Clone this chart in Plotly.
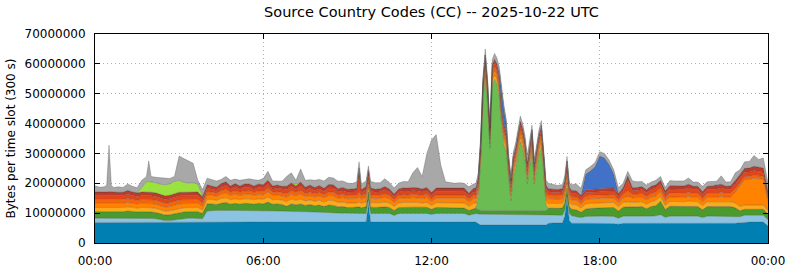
import plotly.graph_objects as go

# time slots (minutes after 00:00 UTC)
minutes = ([0, 10, 20, 25, 30, 35, 40, 50, 60, 70, 80, 90, 100, 110, 115, 120, 130, 140, 150, 160, 170,
            180, 190, 200, 210, 220, 230]
           + [240, 250, 260, 270, 280, 290, 300, 310, 320, 330, 340, 350, 360, 370, 380, 390, 400, 410,
              420, 430, 440, 450, 460, 470, 480, 490, 500, 510, 520, 530, 540, 550]
           + [560, 565, 570, 580, 585, 590]
           + [600, 610, 620, 630, 640, 650, 660, 670, 680, 690, 700, 710, 720, 730, 740, 750, 760, 770,
              780, 790, 800, 810]
           + [815, 820, 825, 830, 835, 840, 845, 850, 855, 860, 865, 870, 875, 880, 885, 890, 895, 900,
              905, 910, 915, 920, 925, 930, 935, 940, 945, 950, 955, 960, 965, 970, 975, 980]
           + [990, 1000, 1005, 1010, 1015, 1020]
           + [1030, 1040, 1050, 1060, 1070, 1080, 1090, 1100, 1110, 1120, 1130, 1140, 1150, 1160, 1170,
              1180, 1190, 1200, 1210, 1220, 1230, 1240, 1250, 1260, 1270, 1280, 1290, 1300, 1310, 1320,
              1330, 1340, 1350, 1360, 1370, 1380, 1390, 1400, 1410, 1420, 1430, 1440])

# values in millions of bytes per slot, bottom layer first
cc_teal = ([6.9, 6.9, 6.9, 6.9, 6.9, 6.9, 6.9, 6.9, 6.9, 6.9, 6.9, 6.9, 6.9, 6.9, 6.9, 6.9, 6.9, 6.9, 6.9, 6.9, 6.9, 6.9, 6.9, 6.9, 6.9, 6.9, 6.9]
           + [7.1, 7.1, 7.1, 7.1, 7.1, 7.1, 7.1, 7.1, 7.1, 7.1, 7.1, 7.1, 7.1, 7.1, 7.1, 7.1, 7.1, 7.1, 7.1, 7.1, 7.1, 7.1, 7.1, 7.1, 7.1, 7.1, 7.1, 7.1, 7.1, 7.1, 7.1, 7.1]
           + [7.1, 7.1, 7.1, 7.1, 13.0, 7.1]
           + [7.1, 7.1, 7.1, 7.1, 6.9, 7.1, 7.1, 7.1, 7.1, 7.1, 7.1, 7.1, 7.0, 7.1, 7.1, 7.1, 7.1, 7.1, 7.1, 7.1, 6.9, 7.0]
           + [7.0, 6.5, 6.0, 6.0, 6.0, 6.0, 6.0, 6.0, 6.0, 6.0, 6.0, 6.0, 6.0, 6.0, 6.0, 6.0, 6.0, 6.0, 6.0, 6.0, 6.0, 6.0, 6.0, 6.0, 6.0, 6.0, 6.0, 6.0, 6.0, 6.0, 6.0, 6.6, 6.7, 6.7]
           + [6.7, 6.7, 9.0, 14.8, 7.5, 6.6]
           + [6.6, 6.5, 6.6, 6.6, 6.6, 6.6, 6.6, 6.5, 6.5, 6.3, 6.6, 6.6, 6.6, 6.6, 6.6, 6.6, 6.6, 6.6, 6.6, 6.5, 6.6, 6.6, 6.6, 6.6, 6.6, 6.6, 6.6, 6.5, 6.6, 6.6, 6.6, 6.6, 6.6, 6.6, 6.6, 6.8, 7.0, 7.0, 7.0, 7.0, 7.0, 5.8])

cc_lightblue = ([1.4, 1.4, 1.4, 1.4, 1.4, 1.4, 1.4, 1.4, 1.4, 1.5, 1.4, 1.4, 1.4, 1.4, 1.4, 1.3, 1.2, 0.8, 0.6, 0.6, 0.8, 1.1, 1.3, 1.4, 1.4, 1.4, 1.2]
                + [3.6, 3.8, 3.8, 3.8, 3.9, 3.8, 3.8, 3.8, 3.8, 3.8, 3.8, 3.8, 3.7, 3.8, 3.8, 3.7, 3.6, 3.5, 3.5, 3.5, 3.5, 3.4, 3.4, 3.3, 3.2, 3.1, 3.1, 3.0, 3.0, 2.9, 2.9, 2.8]
                + [2.8, 2.8, 2.8, 2.8, 1.6, 2.8]
                + [2.8, 2.8, 2.8, 2.8, 2.3, 2.8, 2.8, 2.8, 2.8, 2.8, 2.8, 2.8, 2.6, 2.8, 2.8, 2.8, 2.8, 2.8, 2.8, 2.8, 2.4, 2.8]
                + [2.9, 3.2, 3.6, 3.6, 3.6, 3.6, 3.6, 3.6, 3.6, 3.6, 3.6, 3.6, 3.6, 3.6, 3.6, 3.6, 3.6, 3.6, 3.6, 3.6, 3.6, 3.6, 3.6, 3.6, 3.6, 3.6, 3.6, 3.6, 3.6, 3.6, 3.6, 3.0, 2.8, 2.7]
                + [2.6, 2.6, 2.0, 1.0, 2.4, 2.5]
                + [2.2, 2.0, 2.3, 2.4, 2.4, 2.4, 2.4, 2.4, 2.4, 2.0, 2.4, 2.4, 2.4, 2.4, 2.4, 2.2, 2.4, 2.5, 2.9, 2.1, 2.4, 2.4, 2.4, 2.4, 2.4, 2.4, 2.4, 2.0, 2.4, 2.4, 2.4, 2.4, 2.4, 2.4, 2.3, 2.0, 2.3, 2.3, 2.3, 2.3, 2.3, 2.0])

cc_green = ([2.2, 2.2, 2.2, 2.2, 2.2, 2.2, 2.1, 2.2, 2.2, 2.3, 2.2, 2.1, 2.2, 2.2, 2.2, 2.2, 2.1, 2.0, 1.9, 2.0, 2.1, 2.2, 2.2, 2.2, 2.2, 2.2, 1.8]
            + [2.4, 2.2, 2.0, 2.4, 2.6, 2.1, 2.4, 2.1, 2.4, 2.3, 2.1, 2.4, 2.3, 2.8, 2.1, 2.3, 2.2, 1.7, 2.5, 2.2, 2.5, 2.1, 2.4, 2.1, 2.4, 2.0, 2.5, 2.5, 2.0, 2.2, 1.9, 2.0]
            + [2.0, 2.2, 1.9, 2.2, 2.5, 2.1]
            + [2.0, 2.1, 2.2, 2.0, 1.7, 2.0, 2.1, 2.0, 2.1, 2.1, 2.0, 2.1, 1.7, 2.0, 2.0, 2.0, 1.9, 1.8, 1.8, 1.8, 1.6, 1.8]
            + [1.8, 1.5, 1.3, 1.3, 1.3, 1.3, 1.3, 1.3, 1.3, 1.3, 1.3, 1.3, 1.3, 1.3, 1.3, 1.3, 1.3, 1.3, 1.3, 1.3, 1.3, 1.3, 1.3, 1.3, 1.3, 1.3, 1.3, 1.3, 1.3, 1.3, 1.3, 2.0, 2.2, 2.2]
            + [2.3, 2.4, 2.5, 2.6, 2.3, 2.2]
            + [2.3, 1.8, 2.5, 2.6, 2.7, 2.8, 2.9, 3.0, 3.0, 2.4, 3.0, 3.1, 3.0, 3.1, 3.2, 2.7, 3.2, 3.4, 4.5, 2.6, 3.3, 3.3, 3.2, 3.2, 3.3, 3.2, 3.2, 2.6, 3.2, 3.2, 3.2, 3.3, 3.2, 3.2, 2.9, 2.0, 2.0, 2.0, 2.0, 2.0, 2.0, 1.8])

cc_brightgreen = ([0, 0, 0, 0, 0, 0, 0, 0, 0, 0, 0, 0, 0, 0, 0, 0, 0, 0, 0, 0, 0, 0, 0, 0, 0, 0, 0]
                  + [0, 0, 0, 0, 0, 0, 0, 0, 0, 0, 0, 0, 0, 0, 0, 0, 0, 0, 0, 0, 0, 0, 0, 0, 0, 0, 0, 0, 0, 0, 0, 0]
                  + [0, 0, 0, 0, 0, 0]
                  + [0, 0, 0, 0, 0, 0, 0, 0, 0, 0, 0, 0, 0, 0, 0, 0, 0, 0, 0, 0, 0, 0]
                  + [0, 4.0, 15.8, 36.3, 45.4, 35.8, 20.8, 42.1, 43.9, 42.4, 38.1, 28.4, 22.0, 19.9, 10.8, 3.3, 11.3, 14.3, 18.8, 23.1, 20.8, 16.8, 9.0, 14.8, 20.3, 8.9, 13.8, 18.8, 21.0, 12.8, 1.8, 0, 0, 0]
                  + [0, 0, 0, 0, 0, 0]
                  + [0, 0, 0, 0, 0, 0, 0, 0, 0, 0, 0, 0, 0, 0, 0, 0, 0, 0, 0, 0, 0, 0, 0, 0, 0, 0, 0, 0, 0, 0, 0, 0, 0, 0, 0, 0, 0, 0, 0, 0, 0, 0])

cc_yellow = ([1.4, 1.4, 1.3, 1.4, 1.4, 1.4, 1.4, 1.4, 1.4, 1.4, 1.4, 1.3, 1.4, 1.4, 1.4, 1.4, 1.4, 1.4, 1.3, 1.3, 1.4, 1.4, 1.4, 1.4, 1.4, 1.4, 1.2]
             + [1.5, 1.5, 1.4, 1.6, 1.6, 1.5, 1.5, 1.5, 1.5, 1.6, 1.5, 1.5, 1.5, 1.7, 1.5, 1.5, 1.5, 1.5, 1.6, 1.5, 1.6, 1.5, 1.5, 1.5, 1.6, 1.5, 1.6, 1.6, 1.5, 1.5, 1.5, 1.5]
             + [1.5, 1.6, 1.5, 1.6, 1.5, 1.5]
             + [1.5, 1.5, 1.6, 1.5, 1.3, 1.5, 1.6, 1.6, 1.6, 1.6, 1.5, 1.6, 1.3, 1.6, 1.6, 1.6, 1.6, 1.7, 1.7, 1.7, 1.4, 1.7]
             + [1.7, 1.6, 1.5, 1.5, 1.5, 1.5, 1.5, 1.5, 1.5, 1.5, 1.5, 1.5, 1.5, 1.5, 1.5, 1.5, 1.5, 1.5, 1.5, 1.5, 1.5, 1.5, 1.5, 1.5, 1.5, 1.5, 1.5, 1.5, 1.5, 1.5, 1.5, 1.6, 1.6, 1.6]
             + [1.6, 1.6, 1.7, 2.0, 1.6, 1.6]
             + [1.7, 1.4, 1.7, 1.7, 1.7, 1.7, 1.7, 1.7, 1.7, 1.4, 1.6, 1.7, 1.6, 1.6, 1.6, 1.5, 1.6, 1.7, 1.6, 1.4, 1.6, 1.6, 1.6, 1.6, 1.7, 1.6, 1.6, 1.4, 1.6, 1.6, 1.6, 1.7, 1.6, 1.6, 1.6, 1.4, 1.4, 1.4, 1.4, 1.4, 1.4, 1.3])

cc_orange = ([1.4, 1.4, 1.4, 1.4, 1.4, 1.4, 1.4, 1.3, 1.4, 1.5, 1.4, 1.4, 1.4, 1.4, 1.4, 1.4, 1.4, 1.3, 1.3, 1.4, 1.4, 1.5, 1.4, 1.4, 1.4, 1.4, 1.2]
             + [1.5, 1.4, 1.3, 1.5, 1.6, 1.4, 1.6, 1.4, 1.5, 1.6, 1.4, 1.5, 1.5, 1.7, 1.4, 1.5, 1.4, 1.5, 1.6, 1.5, 1.7, 1.4, 1.5, 1.4, 1.5, 1.4, 1.6, 1.6, 1.4, 1.5, 1.4, 1.5]
             + [1.5, 1.7, 1.4, 1.6, 1.5, 1.5]
             + [1.4, 1.5, 1.6, 1.5, 1.3, 1.5, 1.5, 1.5, 1.6, 1.5, 1.5, 1.6, 1.3, 1.5, 1.5, 1.5, 1.5, 1.6, 1.6, 1.6, 1.4, 1.6]
             + [1.6, 1.5, 1.5, 1.5, 1.5, 1.5, 1.5, 1.5, 1.5, 1.5, 1.5, 1.5, 1.5, 1.5, 1.5, 1.5, 1.5, 1.5, 1.5, 1.5, 1.5, 1.5, 1.5, 1.5, 1.5, 1.5, 1.5, 1.5, 1.5, 1.5, 1.5, 1.6, 1.5, 1.5]
             + [1.5, 1.5, 1.6, 2.0, 1.5, 1.5]
             + [1.5, 1.3, 1.5, 1.5, 1.5, 1.5, 1.5, 1.5, 1.5, 1.4, 1.5, 1.8, 1.5, 1.5, 1.5, 1.4, 1.5, 1.5, 1.5, 1.4, 1.5, 1.5, 1.5, 1.5, 1.6, 1.5, 1.5, 1.3, 1.5, 1.5, 1.5, 1.6, 1.5, 1.6, 3.5, 7.0, 8.5, 8.6, 9.0, 8.8, 8.6, 3.0])

cc_darkorange = ([1.3, 1.2, 1.3, 1.3, 1.3, 1.3, 1.3, 1.3, 1.3, 1.3, 1.3, 1.2, 1.3, 1.3, 1.3, 1.3, 1.3, 1.3, 1.3, 1.3, 1.3, 1.3, 1.3, 1.3, 1.3, 1.3, 1.1]
                 + [1.1, 1.1, 1.1, 1.1, 1.2, 1.1, 1.1, 1.1, 1.1, 1.1, 1.1, 1.1, 1.1, 1.2, 1.1, 1.1, 1.1, 1.2, 1.2, 1.1, 1.2, 1.1, 1.1, 1.1, 1.1, 1.1, 1.2, 1.2, 1.1, 1.1, 1.1, 1.1]
                 + [1.1, 1.6, 1.1, 1.2, 1.3, 1.1]
                 + [1.1, 1.1, 1.2, 1.1, 1.0, 1.1, 1.1, 1.1, 1.1, 1.1, 1.1, 1.1, 1.0, 1.1, 1.1, 1.1, 1.1, 1.1, 1.1, 1.1, 1.0, 1.1]
                 + [1.1, 1.2, 1.3, 1.3, 1.3, 1.3, 1.3, 1.3, 1.3, 1.3, 1.3, 1.3, 1.3, 1.3, 1.3, 1.3, 1.3, 1.3, 1.3, 1.3, 1.3, 1.3, 1.3, 1.3, 1.3, 1.3, 1.3, 1.3, 1.3, 1.3, 1.3, 1.2, 1.1, 1.1]
                 + [1.1, 1.2, 1.3, 1.5, 1.2, 1.1]
                 + [1.1, 1.0, 1.1, 1.1, 1.1, 1.1, 1.1, 1.1, 1.1, 1.0, 1.2, 1.8, 1.2, 1.2, 1.3, 1.2, 1.3, 1.3, 1.3, 1.2, 1.3, 1.3, 1.3, 1.3, 1.4, 1.3, 1.3, 1.2, 1.3, 1.3, 1.3, 1.4, 1.3, 1.3, 1.3, 1.0, 1.0, 1.0, 1.0, 1.0, 1.0, 1.0])

cc_red = ([1.3, 1.3, 1.2, 1.3, 1.3, 1.3, 1.3, 1.3, 1.3, 1.4, 1.3, 1.3, 1.3, 1.3, 1.3, 1.3, 1.3, 1.3, 1.3, 1.3, 1.3, 1.4, 1.3, 1.3, 1.3, 1.3, 1.1]
          + [1.2, 1.0, 1.0, 1.3, 1.3, 1.0, 1.3, 1.0, 1.3, 1.2, 1.0, 1.3, 1.2, 1.4, 1.0, 1.2, 1.1, 1.3, 1.4, 1.1, 1.5, 1.0, 1.3, 1.0, 1.3, 1.0, 1.4, 1.4, 1.0, 1.2, 1.1, 1.1]
          + [1.2, 6.0, 1.0, 1.3, 1.5, 1.2]
          + [1.1, 1.1, 1.3, 1.1, 1.0, 1.1, 1.2, 1.2, 1.2, 1.2, 1.1, 1.2, 1.0, 1.2, 1.2, 1.2, 1.2, 1.1, 1.1, 1.1, 1.0, 1.1]
          + [1.1, 1.3, 1.4, 1.4, 1.4, 1.4, 1.4, 1.4, 1.4, 1.4, 1.4, 1.4, 1.4, 1.4, 1.4, 1.4, 1.4, 1.4, 1.4, 1.4, 1.4, 1.4, 1.4, 1.4, 1.4, 1.4, 1.4, 1.4, 1.4, 1.4, 1.4, 1.2, 1.2, 1.1]
          + [1.1, 1.2, 1.4, 2.0, 1.2, 1.1]
          + [1.1, 1.0, 1.1, 1.1, 1.1, 1.1, 1.1, 1.1, 1.2, 1.1, 1.2, 3.5, 1.2, 1.2, 1.3, 1.2, 1.3, 1.4, 1.4, 1.2, 1.4, 1.4, 1.4, 1.4, 1.5, 1.3, 1.3, 1.2, 1.3, 1.4, 1.4, 1.5, 1.3, 1.3, 1.5, 1.5, 1.5, 1.5, 1.6, 1.6, 1.5, 1.2])

cc_darkred = ([1.2, 1.2, 1.2, 1.2, 1.3, 1.2, 1.2, 1.2, 1.1, 1.3, 1.2, 1.2, 1.2, 1.2, 1.2, 1.2, 1.2, 1.2, 1.2, 1.2, 1.2, 1.2, 1.2, 1.2, 1.2, 1.2, 1.0]
              + [1.1, 1.1, 1.0, 1.1, 1.2, 1.1, 1.1, 1.1, 1.1, 1.1, 1.1, 1.1, 1.1, 1.3, 1.1, 1.0, 1.0, 1.2, 1.2, 1.1, 1.3, 1.1, 1.1, 1.1, 1.1, 1.1, 1.1, 1.1, 1.1, 1.1, 1.0, 1.0]
              + [1.1, 2.0, 1.0, 1.1, 1.4, 1.1]
              + [1.0, 1.0, 1.1, 1.0, 0.9, 1.0, 1.1, 1.1, 1.1, 1.1, 1.0, 1.1, 1.0, 1.1, 1.1, 1.1, 1.1, 1.2, 1.3, 1.2, 1.0, 1.2]
              + [1.2, 1.1, 1.0, 1.0, 1.0, 1.0, 1.0, 1.0, 1.0, 1.0, 1.0, 1.0, 1.0, 1.0, 1.0, 1.0, 1.0, 1.0, 1.0, 1.0, 1.0, 1.0, 1.0, 1.0, 1.0, 1.0, 1.0, 1.0, 1.0, 1.0, 1.0, 1.0, 1.0, 1.0]
              + [1.0, 1.0, 1.2, 1.5, 1.0, 1.0]
              + [1.0, 0.9, 1.0, 1.0, 1.0, 1.0, 1.0, 1.0, 1.0, 0.9, 1.0, 1.5, 1.0, 1.0, 1.0, 1.0, 1.1, 1.1, 1.1, 1.0, 1.1, 1.1, 1.1, 1.1, 1.2, 1.1, 1.1, 1.0, 1.1, 1.1, 1.1, 1.2, 1.1, 1.1, 1.2, 1.2, 1.3, 1.3, 1.4, 1.3, 1.3, 1.0])

cc_blue = ([0, 0, 0, 0, 0, 0, 0, 0, 0, 0, 0, 0, 0, 0, 0, 0, 0, 0, 0, 0, 0, 0, 0, 0, 0, 0, 0]
           + [0, 0, 0, 0, 0, 0, 0, 0, 0, 0, 0, 0, 0, 0, 0, 0, 0, 0, 0, 0, 0, 0, 0, 0, 0, 0, 0, 0, 0, 0, 0, 0]
           + [0, 0, 0, 0, 0, 0]
           + [0, 0, 0, 0, 0, 0, 0, 0, 0, 0, 0, 0, 0, 0, 0, 0, 0, 0, 0, 0, 0, 0]
           + [0, 0, 0, 0, 0, 0, 0, 0, 0, 0, 1.5, 4.5, 5.0, 2.5, 0, 0, 0, 0, 0, 0, 0, 0, 0, 0, 0, 0, 0, 0, 0.8, 0, 0, 0, 0, 0]
           + [0, 0, 0, 0, 0, 0]
           + [0, 0, 5.2, 6.1, 7.4, 10.9, 10.2, 8.0, 4.6, 0, 0, 0, 0, 0, 0, 0, 0, 0, 0, 0, 0, 0, 0, 0, 0, 0, 0, 0, 0, 0, 0.4, 0, 0, 0, 0, 0, 0, 0, 0, 0, 0, 0])

cc_lightgreen = ([0, 0, 0, 0, 0, 0, 0, 0, 0, 0, 0, 0, 1.5, 3.4, 3.5, 3.5, 3.4, 3.5, 3.7, 3.8, 4.3, 4.0, 3.3, 3.0, 3.1, 2.6, 0.3]
                 + [0, 0, 0, 0, 0, 0, 0, 0, 0, 0, 0, 0, 0, 0, 0, 0, 0, 0, 0, 0.6, 0, 0, 0, 0, 0, 0, 0, 0, 0, 0, 0, 0]
                 + [0, 0, 0, 0, 0, 0]
                 + [0, 0, 0, 0, 0, 0, 0, 0, 0, 0, 0, 0, 0, 0, 0, 0, 0, 0, 0, 0, 0, 0]
                 + [0, 0, 0, 0, 0, 0, 0, 0, 0, 0, 0, 0, 0, 0, 0, 0, 0, 0, 0, 0, 0, 0, 0, 0, 0, 0, 0, 0, 0, 0, 0, 0, 0, 0]
                 + [0, 0, 0, 0, 0, 0]
                 + [0, 0, 0, 0, 0, 0, 0, 0, 0, 0, 0, 0, 0, 0, 0, 0, 0, 0, 0, 0, 0, 0, 0, 0, 0, 0, 0, 0, 0, 0, 0, 0, 0, 0, 0, 0, 0, 0, 0, 0, 0, 0])

cc_other = ([2.1, 1.7, 1.9, 2.3, 15.6, 2.2, 1.6, 1.8, 1.6, 2.2, 1.9, 1.7, 2.4, 1.7, 6.9, 1.8, 1.8, 2.1, 2.2, 1.8, 1.6, 8.1, 8.0, 7.4, 6.5, 1.3, 2.1]
            + [2.2, 2.0, 2.1, 1.4, 1.8, 1.9, 1.5, 1.9, 1.4, 1.7, 2.1, 1.2, 2.1, 3.0, 1.7, 1.3, 1.7, 3.3, 3.4, 1.3, 4.4, 2.3, 1.8, 2.4, 2.0, 2.5, 2.4, 2.3, 2.5, 2.2, 2.1, 1.8]
            + [2.2, 2.2, 2.0, 1.9, 1.5, 2.2]
            + [2.2, 2.0, 2.6, 2.2, 2.0, 2.0, 2.1, 2.1, 4.9, 6.8, 4.2, 11.4, 17.6, 17.9, 7.6, 2.1, 2.0, 1.6, 1.7, 1.6, 2.1, 1.5]
            + [1.5, 1.6, 1.6, 1.6, 2.0, 1.6, 1.6, 1.8, 2.0, 2.0, 1.8, 1.5, 1.5, 1.5, 1.6, 1.6, 1.6, 1.6, 1.6, 1.8, 1.6, 1.6, 2.9, 1.6, 1.6, 1.5, 1.6, 1.6, 1.6, 1.6, 1.6, 1.8, 1.7, 1.6]
            + [1.4, 1.4, 1.6, 1.6, 1.4, 1.9]
            + [2.3, 2.4, 1.5, 1.5, 1.5, 1.5, 1.5, 1.5, 1.5, 2.0, 1.5, 1.6, 2.3, 1.9, 1.7, 1.6, 1.4, 1.5, 1.4, 1.2, 1.7, 1.6, 1.6, 1.7, 2.1, 1.4, 1.4, 1.8, 1.5, 1.5, 1.2, 2.8, 1.4, 1.4, 2.6, 1.6, 2.2, 2.2, 3.6, 2.6, 3.4, 3.0])

tick_minutes = [0, 360, 720, 1080, 1440]
tick_labels = ["00:00", "06:00", "12:00", "18:00", "00:00"]

layers = [
    ("CC 1", cc_teal, "#0080b2"),
    ("CC 2", cc_lightblue, "#8cc3e3"),
    ("CC 3", cc_green, "#4b9a2e"),
    ("CC 4", cc_brightgreen, "#6cbc54"),
    ("CC 5", cc_yellow, "#f9ab1c"),
    ("CC 6", cc_orange, "#ff8200"),
    ("CC 7", cc_darkorange, "#f4650c"),
    ("CC 8", cc_red, "#e0461a"),
    ("CC 9", cc_darkred, "#bf3a2b"),
    ("CC 10", cc_blue, "#4272c8"),
    ("CC 11", cc_lightgreen, "#9ae23e"),
    ("Other", cc_other, "#a8a8a8"),
]

bad = [(n, len(v)) for n, v, _ in layers if len(v) != len(minutes)]
assert not bad, (len(minutes), bad)

fig = go.Figure()
for name, vals, color in layers:
    fig.add_trace(go.Scatter(
        x=minutes, y=[v * 1e6 for v in vals], name=name, mode="lines",
        stackgroup="cc", fillcolor=color,
        line=dict(width=0.5, color="rgba(60,60,60,0.55)"),
        hoverinfo="skip"))

axis_common = dict(showline=True, linecolor="black", linewidth=1, mirror="ticks",
                   ticks="inside", ticklen=5, tickcolor="black", tickwidth=1,
                   showgrid=True, gridcolor="#b0b0b0", gridwidth=1, griddash="1px,3px",
                   zeroline=False, automargin=False,
                   tickfont=dict(family="DejaVu Sans", size=12, color="black"))

fig.update_layout(
    width=790, height=267,
    margin=dict(l=95, r=22, t=34, b=24, pad=0),
    paper_bgcolor="white", plot_bgcolor="white",
    showlegend=False,
    font=dict(family="DejaVu Sans", size=12, color="black"),
    title=dict(text="Source Country Codes (CC) -- 2025-10-22 UTC",
               x=0.5, xref="paper", xanchor="center",
               y=1 - 12 / 267, yref="container", yanchor="middle",
               font=dict(family="DejaVu Sans", size=14.5, color="black")),
    xaxis=dict(range=[0, 1440], tickmode="array", tickvals=tick_minutes, ticktext=tick_labels,
               ticklabelstandoff=7, **axis_common),
    yaxis=dict(range=[0, 70e6], tick0=0, dtick=1e7, tickformat="d",
               ticklabelstandoff=6,
               title=dict(text="Bytes per time slot (300 s)", standoff=6,
                          font=dict(family="DejaVu Sans", size=12, color="black")),
               **axis_common),
)

fig.write_html("out.html")
